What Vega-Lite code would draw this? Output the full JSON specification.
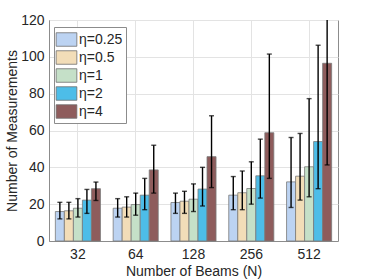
{
  "$schema": "https://vega.github.io/schema/vega-lite/v6.json",
  "autosize": {"type": "none"},
  "width": 289,
  "height": 221,
  "padding": {"left": 49, "top": 20, "right": 36, "bottom": 39},
  "background": "white",
  "config": {
    "font": "Liberation Sans",
    "view": {"stroke": "#8c8c8c", "strokeWidth": 1},
    "axis": {
      "labelFont": "Liberation Sans",
      "titleFont": "Liberation Sans",
      "labelFontSize": 14,
      "titleFontSize": 14,
      "titleFontWeight": "normal",
      "labelColor": "#262626",
      "titleColor": "#262626",
      "domainColor": "#8c8c8c",
      "gridColor": "#e3e3e3",
      "gridWidth": 1,
      "ticks": false
    },
    "axisY": {
      "values": [0, 20, 40, 60, 80, 100, 120],
      "grid": true,
      "labelPadding": 5,
      "titlePadding": 1,
      "title": "Number of Measurements"
    }
  },
  "data": {
    "values": [
      {"N": "32", "eta": "η=0.25", "mean": 16, "lo": 12, "hi": 21},
      {"N": "32", "eta": "η=0.5", "mean": 16.4, "lo": 12, "hi": 21},
      {"N": "32", "eta": "η=1", "mean": 17.8, "lo": 13, "hi": 23},
      {"N": "32", "eta": "η=2", "mean": 22.2, "lo": 15, "hi": 28},
      {"N": "32", "eta": "η=4", "mean": 28.4, "lo": 22, "hi": 32},
      {"N": "64", "eta": "η=0.25", "mean": 17.8, "lo": 13, "hi": 23},
      {"N": "64", "eta": "η=0.5", "mean": 18.4, "lo": 13, "hi": 24},
      {"N": "64", "eta": "η=1", "mean": 19.8, "lo": 14, "hi": 26},
      {"N": "64", "eta": "η=2", "mean": 24.9, "lo": 17, "hi": 34},
      {"N": "64", "eta": "η=4", "mean": 38.6, "lo": 26, "hi": 52},
      {"N": "128", "eta": "η=0.25", "mean": 20.9, "lo": 15, "hi": 26},
      {"N": "128", "eta": "η=0.5", "mean": 21.6, "lo": 15, "hi": 27},
      {"N": "128", "eta": "η=1", "mean": 22.7, "lo": 16, "hi": 31},
      {"N": "128", "eta": "η=2", "mean": 28.2, "lo": 19, "hi": 40},
      {"N": "128", "eta": "η=4", "mean": 45.8, "lo": 29, "hi": 68},
      {"N": "256", "eta": "η=0.25", "mean": 24.9, "lo": 17, "hi": 35},
      {"N": "256", "eta": "η=0.5", "mean": 26.2, "lo": 17, "hi": 38},
      {"N": "256", "eta": "η=1", "mean": 28.5, "lo": 20, "hi": 43},
      {"N": "256", "eta": "η=2", "mean": 35.4, "lo": 23.3, "hi": 55.3},
      {"N": "256", "eta": "η=4", "mean": 58.8, "lo": 34, "hi": 101.5},
      {"N": "512", "eta": "η=0.25", "mean": 32.1, "lo": 18.2, "hi": 56.2},
      {"N": "512", "eta": "η=0.5", "mean": 35.2, "lo": 22.2, "hi": 58.4},
      {"N": "512", "eta": "η=1", "mean": 40.3, "lo": 24, "hi": 77.3},
      {"N": "512", "eta": "η=2", "mean": 54, "lo": 28.4, "hi": 106.3},
      {"N": "512", "eta": "η=4", "mean": 96.5, "lo": 41.3, "hi": 152}
    ]
  },
  "encoding": {
    "x": {
      "field": "N",
      "type": "nominal",
      "sort": ["32", "64", "128", "256", "512"],
      "scale": {"paddingInner": 0.22, "paddingOuter": 0.11},
      "axis": {
        "title": "Number of Beams (N)",
        "labelAngle": 0,
        "grid": true,
        "bandPosition": 0.5,
        "labelPadding": 6,
        "titlePadding": 3
      }
    },
    "xOffset": {
      "field": "eta",
      "type": "nominal",
      "sort": ["η=0.25", "η=0.5", "η=1", "η=2", "η=4"],
      "scale": {"paddingInner": 0, "paddingOuter": 0}
    }
  },
  "layer": [
    {
      "mark": {"type": "bar", "stroke": "#7a7a7a", "strokeWidth": 0.8},
      "encoding": {
        "y": {
          "field": "mean",
          "type": "quantitative",
          "scale": {"domain": [0, 120], "nice": false},
          "title": "Number of Measurements"
        },
        "color": {
          "field": "eta",
          "type": "nominal",
          "sort": ["η=0.25", "η=0.5", "η=1", "η=2", "η=4"],
          "scale": {
            "domain": ["η=0.25", "η=0.5", "η=1", "η=2", "η=4"],
            "range": ["#bcd3f2", "#f2ddb8", "#c5e0c8", "#4dbde8", "#8e5c5c"]
          },
          "legend": {
            "title": null,
            "orient": "none",
            "legendX": 5,
            "legendY": 7,
            "fillColor": "white",
            "strokeColor": "#8c8c8c",
            "padding": 3,
            "symbolType": "M-1.15,-0.75L1.15,-0.75L1.15,0.75L-1.15,0.75Z",
            "symbolSize": 324,
            "symbolStrokeColor": "#6e6e6e",
            "symbolStrokeWidth": 0.8,
            "symbolOpacity": 1,
            "labelFont": "Liberation Sans",
            "labelFontSize": 14,
            "labelColor": "#262626",
            "labelOffset": 3,
            "rowPadding": 0,
            "columnPadding": 4
          }
        }
      }
    },
    {
      "mark": {"type": "rule", "color": "black", "strokeWidth": 1.4, "clip": true},
      "encoding": {
        "y": {"field": "lo", "type": "quantitative", "title": "Number of Measurements"},
        "y2": {"field": "hi"}
      }
    },
    {
      "mark": {"type": "tick", "color": "black", "size": 5, "thickness": 1.4, "clip": true},
      "encoding": {
        "y": {"field": "lo", "type": "quantitative", "title": "Number of Measurements"}
      }
    },
    {
      "mark": {"type": "tick", "color": "black", "size": 5, "thickness": 1.4, "clip": true},
      "encoding": {
        "y": {"field": "hi", "type": "quantitative", "title": "Number of Measurements"}
      }
    }
  ]
}
